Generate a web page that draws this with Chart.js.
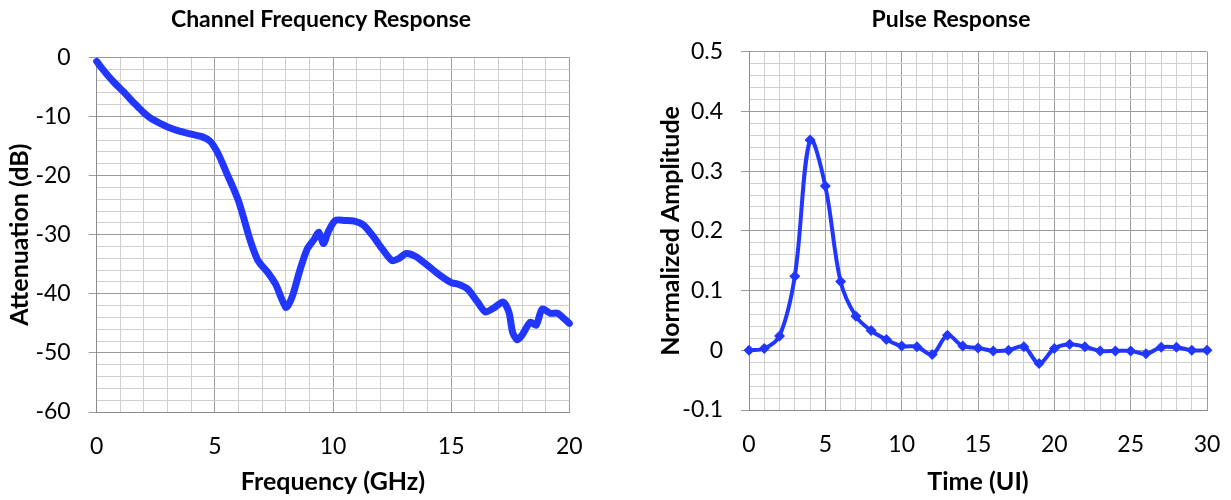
<!DOCTYPE html>
<html>
<head>
<meta charset="utf-8">
<script src="https://cdn.jsdelivr.net/npm/chart.js@4"></script>
<style>
  html, body { margin: 0; padding: 0; background: #fff; overflow: hidden; width: 1231px; height: 500px; }
  #c1 { position: absolute; left: 0; top: 0; }
  #c2 { position: absolute; left: 641px; top: 0; }
</style>
</head>
<body>
<canvas id="c1" width="642" height="500"></canvas>
<canvas id="c2" width="620" height="500"></canvas>
<script>
// ---- Channel frequency response ----
const freqGHz = [0, 0.25, 0.5, 0.75, 1.0, 1.25, 1.5, 1.75, 2.0, 2.25, 2.5, 2.75, 3.0, 3.5, 4.0, 4.5, 4.8, 5.0, 5.2, 5.5, 5.8, 6.0, 6.2, 6.5, 6.8, 7.0, 7.2, 7.4, 7.6, 7.8, 8.0, 8.1, 8.3, 8.6, 8.9, 9.2, 9.4, 9.6, 9.8, 10.1, 10.5, 10.9, 11.3, 11.7, 12.1, 12.5, 12.8, 13.1, 13.5, 14.0, 14.5, 15.0, 15.3, 15.7, 16.1, 16.45, 16.8, 17.2, 17.45, 17.6, 17.8, 18.0, 18.35, 18.6, 18.85, 19.2, 19.5, 19.8, 20.0];
const attenuationDb = [-0.7, -2.0, -3.2, -4.3, -5.3, -6.3, -7.4, -8.4, -9.4, -10.2, -10.8, -11.3, -11.8, -12.5, -13.0, -13.5, -14.2, -15.3, -16.8, -19.6, -22.3, -24.3, -26.9, -31.0, -34.2, -35.3, -36.2, -37.3, -38.6, -40.6, -42.3, -42.0, -40.2, -36.0, -32.5, -30.8, -29.6, -31.5, -29.5, -27.6, -27.6, -27.7, -28.4, -30.3, -32.5, -34.4, -34.0, -33.2, -33.7, -35.2, -36.8, -38.1, -38.4, -39.2, -41.3, -43.1, -42.4, -41.4, -43.2, -46.5, -47.8, -47.0, -44.8, -45.3, -42.6, -43.3, -43.3, -44.3, -45.0];
const freqMajorTicks = [0, 5, 10, 15, 20];
const attenMajorTicks = [0, -10, -20, -30, -40, -50, -60];

// ---- Pulse response ----
const pulseTimeUI = [0, 1, 2, 3, 4, 5, 6, 7, 8, 9, 10, 11, 12, 13, 14, 15, 16, 17, 18, 19, 20, 21, 22, 23, 24, 25, 26, 27, 28, 29, 30];
const pulseAmplitude = [0, 0.003, 0.024, 0.124, 0.352, 0.275, 0.115, 0.057, 0.033, 0.018, 0.007, 0.006, -0.007, 0.025, 0.007, 0.004, -0.001, 0.0, 0.006, -0.022, 0.003, 0.01, 0.006, -0.001, -0.001, -0.001, -0.006, 0.005, 0.005, 0.0, 0.0];
const timeMajorTicks = [0, 5, 10, 15, 20, 25, 30];
const ampMajorTicks = [-0.1, 0, 0.1, 0.2, 0.3, 0.4, 0.5];

const FONT = 'Lato, "Open Sans", sans-serif';
const FS = 23;
const FT = 25;
const BLUE = '#2137FF';
const MAJOR = '#9c9c9c';
const MINOR = '#cfcfcf';

function isMajor(v, list) { return list.some(m => Math.abs(m - v) < 1e-6); }

function gridOpts(list, withTicks) {
  return {
    color: ctx => (ctx.tick && isMajor(ctx.tick.value, list)) ? MAJOR : MINOR,
    tickColor: ctx => (ctx.tick && isMajor(ctx.tick.value, list)) ? MAJOR : 'rgba(0,0,0,0)',
    lineWidth: 1,
    drawTicks: withTicks,
    tickLength: withTicks ? 8 : 0
  };
}

function makeChart(id, cfg) {
  return new Chart(document.getElementById(id), {
    type: 'line',
    data: { datasets: [cfg.dataset] },
    options: {
      responsive: false,
      animation: false,
      devicePixelRatio: 1,
      layout: { padding: 0 },
      plugins: {
        legend: { display: false },
        tooltip: { enabled: false },
        title: {
          display: true,
          text: cfg.title,
          color: '#000',
          font: { family: FONT, size: FS, weight: 'bold' },
          padding: { top: 6, bottom: cfg.titleBottom }
        }
      },
      scales: {
        x: {
          type: 'linear',
          min: cfg.xMin, max: cfg.xMax,
          afterFit: s => { s.height = cfg.xHeight; },
          border: { color: '#8c8c8c', width: 1 },
          grid: gridOpts(cfg.xMajor, false),
          ticks: {
            stepSize: cfg.xStep, autoSkip: false, maxRotation: 0,
            padding: 21, color: '#000',
            font: { family: FONT, size: FS },
            callback: v => isMajor(v, cfg.xMajor) ? String(Math.round(v)) : ''
          },
          title: {
            display: true, text: cfg.xTitle, color: '#000',
            font: { family: FONT, size: FT, weight: 'bold' },
            padding: { top: 0, bottom: 3.3 }
          }
        },
        y: {
          type: 'linear', position: 'left',
          min: cfg.yMin, max: cfg.yMax,
          afterFit: s => { s.width = cfg.yWidth; },
          border: { color: '#8c8c8c', width: 1 },
          grid: gridOpts(cfg.yMajor, true),
          ticks: {
            stepSize: cfg.yStep, autoSkip: false,
            padding: 18, color: '#000',
            font: { family: FONT, size: FS },
            callback: v => isMajor(v, cfg.yMajor) ? cfg.yFmt(v) : ''
          },
          title: {
            display: true, text: cfg.yTitle, color: '#000',
            font: { family: FONT, size: FT, weight: 'bold' },
            padding: { top: cfg.yTitlePad, bottom: 0 }
          }
        },
        spacer: {
          type: 'linear', position: 'right',
          min: 0, max: 1,
          afterFit: s => { s.width = cfg.rightSpace; },
          border: { display: false },
          grid: { display: false, drawTicks: false },
          ticks: { display: false }
        }
      }
    }
  });
}

makeChart('c1', {
  title: 'Channel Frequency Response',
  titleBottom: 23.7,
  rightSpace: 72.7,
  xMin: 0, xMax: 20, xStep: 1, xMajor: freqMajorTicks, xHeight: 88,
  xTitle: 'Frequency (GHz)',
  yMin: -60, yMax: 0, yStep: 2, yMajor: attenMajorTicks, yWidth: 96.7,
  yFmt: v => String(Math.round(v)),
  yTitle: 'Attenuation (dB)', yTitlePad: 5,
  dataset: {
    data: freqGHz.map((f, i) => ({ x: f, y: attenuationDb[i] })),
    borderColor: BLUE, backgroundColor: BLUE,
    borderWidth: 7, pointRadius: 0, tension: 0.25,
    borderCapStyle: 'round', borderJoinStyle: 'round',
    clip: false
  }
});

makeChart('c2', {
  title: 'Pulse Response',
  titleBottom: 18.1,
  rightSpace: 54,
  xMin: 0, xMax: 30, xStep: 1, xMajor: timeMajorTicks, xHeight: 90,
  xTitle: 'Time (UI)',
  yMin: -0.1, yMax: 0.5, yStep: 0.02, yMajor: ampMajorTicks, yWidth: 108,
  yFmt: v => String(Math.round(v * 10) / 10),
  yTitle: 'Normalized Amplitude', yTitlePad: 14.5,
  dataset: {
    data: pulseTimeUI.map((t, i) => ({ x: t, y: pulseAmplitude[i] })),
    borderColor: BLUE, backgroundColor: BLUE,
    borderWidth: 4, pointRadius: 5.5, pointStyle: 'rectRot',
    pointBorderWidth: 0, pointBackgroundColor: BLUE,
    tension: 0.35, clip: false
  }
});
</script>
</body>
</html>
